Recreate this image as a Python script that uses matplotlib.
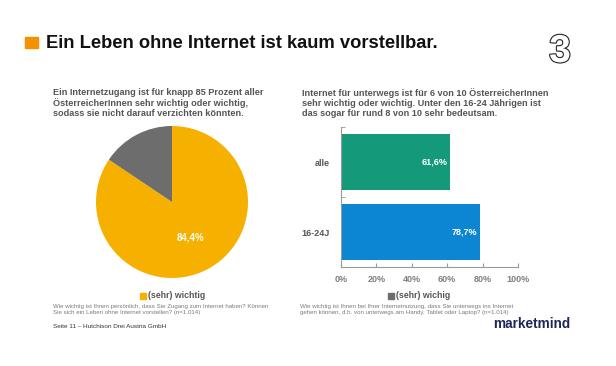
import matplotlib.pyplot as plt
import matplotlib.patheffects as pe
from matplotlib.patches import Rectangle

W, H = 616, 366

# data
pie_labels = ['(sehr) wichtig', 'andere']
pie_values = [84.4, 15.6]
bar_cats = ['16-24J', 'alle']
bar_values = [78.7, 61.6]
bar_texts = ['78,7%', '61,6%']
xticks = [0, 20, 40, 60, 80, 100]

YELLOW = '#F5B000'
GREY = '#6D6D6D'
GREEN = '#14997B'
BLUE = '#0C86D1'
TXT = '#555555'

plt.rcParams['font.family'] = ['Liberation Sans', 'DejaVu Sans']


def px(x, y):
    return x / W, 1 - y / H


def ax_px(left, top, right, bottom):
    return [left / W, 1 - bottom / H, (right - left) / W, (bottom - top) / H]


fig = plt.figure(figsize=(W / 100, H / 100), dpi=100)
fig.patch.set_facecolor('white')

# title
fig.patches.append(Rectangle(px(25, 48), 13 / W, 11 / H, transform=fig.transFigure,
                             color='#F39200', zorder=5))
fig.text(*px(46, 43), 'Ein Leben ohne Internet ist kaum vorstellbar.', fontsize=13.2,
         fontweight='bold', color='#111111', va='center')
fig.text(*px(560, 52), '3', fontsize=28, fontweight='bold', color='white', ha='center',
         va='center', path_effects=[pe.withStroke(linewidth=1.6, foreground='#222222')])

# subtitles
fig.text(*px(53, 88), 'Ein Internetzugang ist für knapp 85 Prozent aller\n'
         'ÖsterreicherInnen sehr wichtig oder wichtig,\n'
         'sodass sie nicht darauf verzichten könnten.',
         fontsize=6.6, fontweight='bold', color=TXT, va='top', linespacing=1.15)
fig.text(*px(302, 88), 'Internet für unterwegs ist für 6 von 10 ÖsterreicherInnen\n'
         'sehr wichtig oder wichtig. Unter den 16-24 Jährigen ist\n'
         'das sogar für rund 8 von 10 sehr bedeutsam.',
         fontsize=6.6, fontweight='bold', color=TXT, va='top', linespacing=1.15)

# pie
ax1 = fig.add_axes(ax_px(96, 126, 248, 278))
wedges, _, autotexts = ax1.pie(pie_values, colors=[YELLOW, GREY], startangle=90,
                               counterclock=False, autopct='%1.1f%%', pctdistance=0.53,
                               textprops=dict(color='white', fontsize=7, fontweight='bold'))
autotexts[0].set_text('84,4%')
autotexts[1].set_text('')
ax1.set_xlim(-1, 1)
ax1.set_ylim(-1, 1)
ax1.set_aspect('equal')

fig.patches.append(Rectangle(px(140, 299), 6 / W, 6 / H, transform=fig.transFigure,
                             color=YELLOW))
fig.text(*px(148, 296), pie_labels[0], fontsize=6.3, fontweight='bold', color=TXT,
         va='center')

# bars
ax2 = fig.add_axes(ax_px(341, 127, 518, 267))
ax2.barh(range(len(bar_cats)), bar_values, height=0.79, color=[BLUE, GREEN])
for i, (v, t) in enumerate(zip(bar_values, bar_texts)):
    ax2.text(v - 1.5, i, t, ha='right', va='center', color='white', fontsize=6.5,
             fontweight='bold')
ax2.set_xlim(0, 100)
ax2.set_ylim(-0.5, 1.5)
ax2.set_xticks(xticks)
ax2.set_xticklabels([f'{t}%' for t in xticks])
ax2.set_yticks(range(len(bar_cats)))
ax2.set_yticklabels(bar_cats)
ax2.set_yticks([-0.5, 0.5, 1.5], minor=True)
ax2.tick_params(axis='y', which='major', length=0, pad=8, labelsize=6.5, labelcolor=TXT)
ax2.tick_params(axis='y', which='minor', length=3, direction='in', color='#999999')
ax2.tick_params(axis='x', length=3, direction='in', color='#999999', pad=6,
                labelsize=6.5, labelcolor='#808080')
for lab in ax2.get_yticklabels() + ax2.get_xticklabels():
    lab.set_fontweight('bold')
for s in ['top', 'right']:
    ax2.spines[s].set_visible(False)
for s in ['left', 'bottom']:
    ax2.spines[s].set_color('#999999')
    ax2.spines[s].set_linewidth(0.8)

fig.patches.append(Rectangle(px(388, 299), 6 / W, 6 / H, transform=fig.transFigure,
                             color=GREY))
fig.text(*px(396, 296), '(sehr) wichig', fontsize=6.3, fontweight='bold', color=TXT,
         va='center')

# footnotes
fig.text(*px(53, 304), 'Wie wichtig ist Ihnen persönlich, dass Sie Zugang zum Internet haben? Können\n'
         'Sie sich ein Leben ohne Internet vorstellen? (n=1.014)',
         fontsize=4.45, color='#7a7a7a', va='top', linespacing=1.2)
fig.text(*px(300, 304), 'Wie wichtig ist Ihnen bei Ihrer Internetnutzung, dass Sie unterwegs ins Internet\n'
         'gehen können, d.h. von unterwegs am Handy, Tablet oder Laptop? (n=1.014)',
         fontsize=4.45, color='#7a7a7a', va='top', linespacing=1.2)
fig.text(*px(53, 326), 'Seite 11 – Hutchison Drei Austria GmbH', fontsize=4.6,
         color='#333333', va='center')
fig.text(*px(493, 324), 'marketmind', fontsize=9.8, fontweight='bold', color='#1E2657',
         va='center')

fig.savefig('out.png', dpi=100)
